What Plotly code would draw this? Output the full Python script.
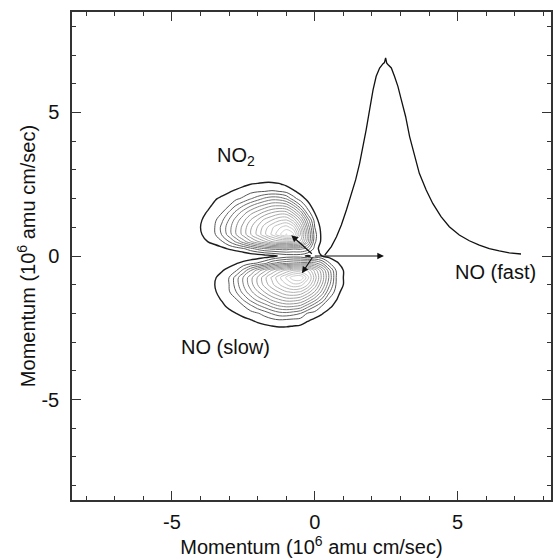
import plotly.graph_objects as go

# ---------------- data ----------------
# fast NO momentum profile (x, y in 1e6 amu cm/s)
fast_x = [0.35, 0.58, 0.76, 0.93, 1.11, 1.28, 1.43, 1.57, 1.69, 1.80, 1.92, 2.04, 2.15,
          2.27, 2.39, 2.44, 2.48, 2.52, 2.56, 2.68, 2.79, 2.91, 3.03, 3.18, 3.32, 3.49,
          3.66, 3.90, 4.13, 4.42, 4.71, 5.06, 5.41, 5.76, 6.11, 6.46, 6.81, 7.22]
fast_y = [0.03, 0.33, 0.67, 1.08, 1.61, 2.13, 2.65, 3.23, 3.82, 4.40, 5.10, 5.79, 6.26,
          6.55, 6.70, 6.74, 6.90, 6.72, 6.67, 6.55, 6.26, 5.91, 5.44, 4.86, 4.16, 3.47,
          2.88, 2.30, 1.83, 1.37, 1.02, 0.73, 0.53, 0.38, 0.26, 0.18, 0.11, 0.07]

# contour map grid (estimated contour index at each grid node)
grid_x = [-4.25, -4.0, -3.75, -3.5, -3.25, -3.0, -2.75, -2.5, -2.25, -2.0, -1.75, -1.5,
          -1.25, -1.0, -0.75, -0.5, -0.25, 0.0, 0.25, 0.5, 0.75, 1.0, 1.25]
grid_y = [-2.75, -2.5, -2.25, -2.0, -1.75, -1.5, -1.25, -1.0, -0.75, -0.5, -0.25, 0.0,
          0.25, 0.5, 0.75, 1.0, 1.25, 1.5, 1.75, 2.0, 2.25, 2.5, 2.75]
grid_z = [
    # y = -2.75
    [-1, -1, -1, -1, -1, -1, -1, -1, -0.5, -0.2, 0.0, 0.0, 0.1, 0.0, -0.1, -0.2, -0.5, -1, -1, -1, -1, -1, -1],
    # y = -2.5
    [-1, -1, -1, -1, -1, -1, -0.7, -0.4, -0.1, 0.5, 0.7, 0.8, 0.9, 0.9, 0.8, 0.7, 0.3, -0.2, -0.7, -1, -1, -1, -1],
    # y = -2.25
    [-1, -1, -1, -1, -0.8, -0.4, 0.0, 0.7, 0.9, 1.2, 1.4, 1.6, 1.8, 1.7, 1.6, 1.5, 1.1, 0.7, 0.3, -0.3, -1, -1, -1],
    # y = -2.0
    [-1, -1, -1, -0.5, 0.0, 0.7, 1.0, 1.3, 1.6, 1.9, 2.4, 3.1, 3.6, 3.7, 3.4, 3.0, 1.9, 1.6, 1.1, 0.5, -0.1, -1, -1],
    # y = -1.75
    [-1, -1, -0.3, 0.3, 0.8, 1.2, 1.6, 1.9, 2.7, 3.6, 4.4, 5.2, 5.9, 6.2, 6.1, 5.7, 4.4, 3.1, 1.9, 1.3, 0.6, -0.2, -1],
    # y = -1.5
    [-1, -0.3, 0.3, 0.7, 1.1, 1.6, 2.0, 3.2, 4.4, 5.5, 6.3, 7.4, 8.1, 8.7, 8.7, 8.3, 7.1, 5.6, 3.9, 1.9, 1.1, 0.3, -0.7],
    # y = -1.25
    [-1, -0.1, 0.4, 0.9, 1.4, 1.9, 3.0, 4.4, 5.7, 6.9, 8.1, 9.2, 10.1, 10.9, 11.2, 10.9, 9.6, 7.9, 5.7, 3.2, 1.5, 0.6, -0.3],
    # y = -1.0
    [-1, -0.1, 0.5, 1.0, 1.5, 2.0, 3.5, 5.0, 6.5, 8.0, 9.4, 10.7, 11.9, 12.9, 13.7, 13.4, 12.0, 9.7, 7.0, 4.3, 1.9, 1.0, 0.0],
    # y = -0.75
    [-1, -0.1, 0.4, 0.9, 1.4, 2.0, 3.5, 5.1, 6.6, 8.1, 9.7, 11.2, 12.7, 14.2, 15.7, 16.0, 13.4, 10.6, 7.7, 4.9, 2.0, 1.0, 0.1],
    # y = -0.5
    [-1, -1, -0.2, 0.4, 0.9, 1.4, 1.9, 3.3, 4.9, 6.4, 7.7, 9.1, 10.3, 11.2, 12.1, 12.1, 11.9, 9.7, 7.2, 4.4, 1.9, 1.0, 0.0],
    # y = -0.25
    [-1, -1, -1, -0.5, 0.1, 0.5, 0.9, 1.3, 1.7, 2.1, 2.7, 3.8, 4.4, 4.8, 5.1, 5.3, 5.5, 5.3, 4.1, 2.1, 1.3, 0.4, -0.5],
    # y = 0.0
    [-1, -1, -1, -0.8, -0.5, -0.3, 0.0, 0.1, 0.2, 0.3, 0.5, 0.7, 1.1, 1.4, 1.5, 1.4, 0.8, 1.3, 1.0, 0.7, 0.1, -0.5, -1],
    # y = 0.25
    [-1, -0.6, -0.1, 0.4, 0.7, 1.1, 1.4, 1.8, 2.6, 3.3, 3.9, 4.2, 4.3, 4.4, 4.1, 4.2, 3.6, 1.6, 0.4, -0.9, -1, -1, -1],
    # y = 0.5
    [-0.1, 0.5, 1.0, 1.4, 1.9, 3.0, 4.2, 5.5, 6.8, 7.9, 8.8, 10.0, 10.6, 10.6, 10.5, 9.8, 6.4, 2.2, 0.7, -0.8, -1, -1, -1],
    # y = 0.75
    [0.4, 0.9, 1.4, 1.9, 3.1, 4.5, 6.0, 7.4, 8.9, 10.3, 11.8, 13.2, 14.7, 16.1, 15.3, 11.0, 6.7, 2.4, 0.7, -0.7, -1, -1, -1],
    # y = 1.0
    [0.6, 1.0, 1.5, 2.0, 3.3, 4.6, 6.0, 7.4, 8.8, 10.1, 11.5, 12.8, 13.8, 14.5, 13.4, 10.0, 5.9, 2.0, 0.6, -0.9, -1, -1, -1],
    # y = 1.25
    [0.5, 0.9, 1.4, 1.8, 2.8, 4.1, 5.5, 6.7, 8.0, 9.1, 10.3, 11.0, 11.8, 12.1, 10.7, 8.1, 4.6, 1.6, 0.2, -1, -1, -1, -1],
    # y = 1.5
    [0.3, 0.7, 1.1, 1.6, 2.0, 3.2, 4.4, 5.6, 6.7, 7.5, 8.4, 9.1, 9.6, 9.5, 7.9, 5.7, 2.6, 1.0, -0.3, -1, -1, -1, -1],
    # y = 1.75
    [-0.1, 0.4, 0.8, 1.2, 1.6, 2.0, 3.1, 4.0, 4.9, 5.7, 6.3, 6.9, 7.0, 6.7, 5.2, 3.1, 1.5, 0.4, -0.7, -1, -1, -1, -1],
    # y = 2.0
    [-0.3, 0.1, 0.5, 0.9, 1.2, 1.5, 1.8, 2.2, 2.9, 3.5, 4.2, 4.6, 4.5, 3.9, 2.4, 1.5, 0.7, -0.3, -1, -1, -1, -1, -1],
    # y = 2.25
    [-1, -0.5, 0.0, 0.4, 0.6, 0.9, 1.2, 1.4, 1.7, 1.9, 2.0, 2.1, 2.0, 1.7, 1.2, 0.6, -0.2, -1, -1, -1, -1, -1, -1],
    # y = 2.5
    [-1, -1, -0.8, -0.3, 0.0, 0.2, 0.5, 0.8, 1.0, 1.1, 1.2, 1.2, 1.1, 0.8, 0.3, -0.3, -1, -1, -1, -1, -1, -1, -1],
    # y = 2.75
    [-1, -1, -1, -1, -0.6, -0.4, -0.2, 0.1, 0.2, 0.3, 0.4, 0.4, 0.2, -0.1, -0.6, -1, -1, -1, -1, -1, -1, -1, -1],
]

# momentum vectors (tail -> head)
vec_tail_x = [-0.05, -0.05, -0.05]
vec_tail_y = [0.03, 0.0, 0.0]
vec_head_x = [-0.82, -0.45, 2.42]
vec_head_y = [0.72, -0.60, 0.0]

labels = ["NO<sub>2</sub>", "NO (fast)", "NO (slow)"]
label_x = [-2.76, 6.34, -3.14]
label_y = [3.45, -0.56, -3.17]

tick_vals = [-5, 0, 5]
tick_text = ["-5", "0", "5"]

FONT = "Liberation Sans, Arial, Helvetica, sans-serif"
AX = "#333333"

fig = go.Figure()

fig.add_trace(go.Contour(
    x=grid_x, y=grid_y, z=grid_z,
    contours=dict(start=2, end=16, size=1, coloring="lines"),
    colorscale=[[0.0, "#555555"], [0.35, "#939393"], [1.0, "#d6d6d6"]],
    zmin=2, zmax=16, showscale=False,
    line=dict(width=1, smoothing=1.0), hoverinfo="skip",
))
fig.add_trace(go.Contour(
    x=grid_x, y=grid_y, z=grid_z,
    contours=dict(start=1, end=1, size=1, coloring="none"),
    showscale=False,
    line=dict(width=1.4, color="#1e1e1e", smoothing=1.0), hoverinfo="skip",
))

fig.add_trace(go.Scatter(
    x=fast_x, y=fast_y, mode="lines",
    line=dict(color="#111111", width=1.3), hoverinfo="skip",
))

for tx, ty, hx, hy in zip(vec_tail_x, vec_tail_y, vec_head_x, vec_head_y):
    fig.add_annotation(x=hx, y=hy, ax=tx, ay=ty, xref="x", yref="y",
                       axref="x", ayref="y", text="", showarrow=True,
                       arrowhead=2, arrowsize=1.1, arrowwidth=1.2,
                       arrowcolor="#111111", standoff=0, startstandoff=0)

for t, lx, ly in zip(labels, label_x, label_y):
    fig.add_annotation(x=lx, y=ly, xref="x", yref="y", text=t, showarrow=False,
                       xanchor="center", yanchor="middle",
                       font=dict(size=20, color="#111111", family=FONT))

axis_common = dict(
    showgrid=False, zeroline=False, showline=True, linecolor=AX, linewidth=1.5,
    mirror="allticks", ticks="inside", ticklen=9, tickwidth=1.3, tickcolor=AX,
    tickmode="array", tickvals=tick_vals, ticktext=tick_text,
    tickfont=dict(size=20, color="#111111", family=FONT),
    minor=dict(ticks="inside", ticklen=4, tickwidth=1.2, tickcolor=AX,
               tickmode="linear", tick0=0, dtick=1, showgrid=False),
)

fig.update_xaxes(range=[-8.5, 8.27], ticklabelstandoff=3,
                 title=dict(text="Momentum (10<sup>6</sup> amu cm/sec)",
                            font=dict(size=20, color="#111111", family=FONT), standoff=8),
                 **axis_common)
fig.update_yaxes(range=[-8.5, 8.5], ticklabelstandoff=7,
                 title=dict(text="Momentum (10<sup>6</sup> amu cm/sec)",
                            font=dict(size=20, color="#111111", family=FONT), standoff=0),
                 **axis_common)

fig.update_layout(
    width=553, height=560,
    margin=dict(l=72, r=0, t=12, b=60, pad=0),
    paper_bgcolor="white", plot_bgcolor="white",
    showlegend=False,
    font=dict(family=FONT, size=20, color="#111111"),
)

fig.write_html("out.html")
